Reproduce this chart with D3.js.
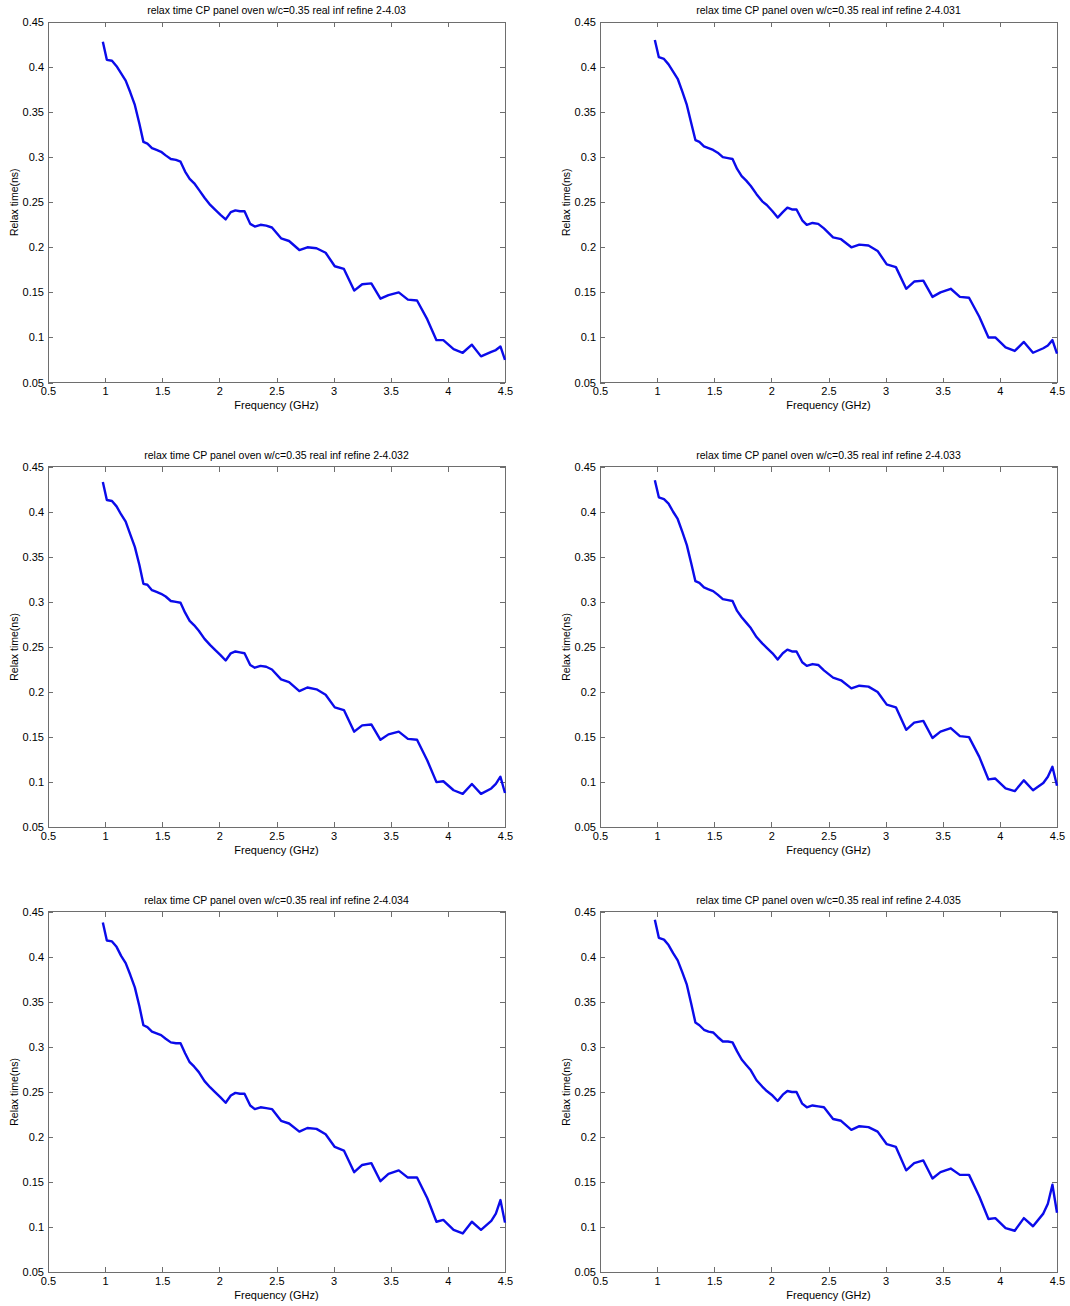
<!DOCTYPE html>
<html>
<head>
<meta charset="utf-8">
<script src="https://cdn.jsdelivr.net/npm/d3@7"></script>
<style>
  html, body { margin: 0; padding: 0; background: #fff; }
  svg { display: block; }
  text { font-family: "Liberation Sans", Arial, sans-serif; fill: #000; }
</style>
</head>
<body>
<svg id="chart" width="1070" height="1306"></svg>
<script>
// Frequency grid (GHz) shared by all six runs
const freq = [0.98, 1.015, 1.06, 1.10, 1.14, 1.18, 1.22, 1.26, 1.30, 1.335,
  1.37, 1.41, 1.45, 1.49, 1.53, 1.575, 1.62, 1.66, 1.70, 1.74,
  1.78, 1.82, 1.87, 1.92, 1.96, 2.01, 2.055, 2.10, 2.14, 2.18,
  2.22, 2.27, 2.31, 2.36, 2.41, 2.46, 2.54, 2.61, 2.70, 2.77,
  2.85, 2.93, 3.01, 3.09, 3.18, 3.25, 3.33, 3.41, 3.48, 3.57,
  3.65, 3.73, 3.82, 3.90, 3.96, 4.05, 4.13, 4.21, 4.29, 4.38,
  4.42, 4.46, 4.50];

// Relaxation time (ns) for each refinement run
const relax403 = [0.428, 0.408, 0.407, 0.401, 0.393, 0.385, 0.372, 0.358, 0.337, 0.317,
  0.315, 0.310, 0.308, 0.306, 0.302, 0.298, 0.297, 0.295, 0.284, 0.276,
  0.271, 0.264, 0.255, 0.247, 0.242, 0.236, 0.231, 0.239, 0.241, 0.240,
  0.240, 0.226, 0.223, 0.225, 0.224, 0.222, 0.210, 0.207, 0.197, 0.200,
  0.199, 0.194, 0.179, 0.176, 0.152, 0.159, 0.160, 0.143, 0.147, 0.150,
  0.142, 0.141, 0.120, 0.097, 0.097, 0.087, 0.083, 0.092, 0.079, 0.084,
  0.086, 0.090, 0.075];
const relax4031 = [0.430, 0.411, 0.409, 0.403, 0.395, 0.387, 0.373, 0.358, 0.337, 0.319,
  0.317, 0.312, 0.310, 0.308, 0.305, 0.300, 0.299, 0.298, 0.287, 0.279,
  0.274, 0.268, 0.259, 0.251, 0.247, 0.240, 0.233, 0.239, 0.244, 0.242,
  0.242, 0.230, 0.225, 0.227, 0.226, 0.221, 0.211, 0.209, 0.200, 0.203,
  0.202, 0.196, 0.181, 0.178, 0.154, 0.162, 0.163, 0.145, 0.150, 0.154,
  0.145, 0.144, 0.123, 0.100, 0.100, 0.089, 0.085, 0.095, 0.083, 0.088,
  0.091, 0.097, 0.082];
const relax4032 = [0.433, 0.413, 0.412, 0.406, 0.397, 0.389, 0.375, 0.361, 0.341, 0.320,
  0.319, 0.313, 0.311, 0.309, 0.306, 0.301, 0.300, 0.299, 0.288, 0.279,
  0.274, 0.268, 0.259, 0.252, 0.247, 0.241, 0.235, 0.243, 0.245, 0.244,
  0.243, 0.230, 0.227, 0.229, 0.228, 0.225, 0.214, 0.211, 0.201, 0.205,
  0.203, 0.197, 0.183, 0.180, 0.156, 0.163, 0.164, 0.147, 0.153, 0.156,
  0.148, 0.147, 0.124, 0.100, 0.101, 0.091, 0.087, 0.098, 0.087, 0.093,
  0.098, 0.106, 0.088];
const relax4033 = [0.435, 0.416, 0.414, 0.409, 0.400, 0.392, 0.378, 0.363, 0.342, 0.323,
  0.321, 0.316, 0.314, 0.312, 0.308, 0.303, 0.302, 0.301, 0.290, 0.283,
  0.277, 0.271, 0.261, 0.254, 0.249, 0.243, 0.236, 0.243, 0.247, 0.245,
  0.245, 0.233, 0.229, 0.231, 0.230, 0.224, 0.216, 0.213, 0.204, 0.207,
  0.206, 0.200, 0.186, 0.183, 0.158, 0.166, 0.168, 0.149, 0.156, 0.160,
  0.151, 0.150, 0.128, 0.103, 0.104, 0.093, 0.090, 0.102, 0.091, 0.099,
  0.106, 0.117, 0.096];
const relax4034 = [0.438, 0.418, 0.417, 0.411, 0.401, 0.393, 0.380, 0.366, 0.345, 0.324,
  0.322, 0.317, 0.315, 0.313, 0.309, 0.305, 0.304, 0.304, 0.293, 0.283,
  0.278, 0.272, 0.262, 0.255, 0.250, 0.244, 0.238, 0.246, 0.249, 0.248,
  0.248, 0.235, 0.231, 0.233, 0.232, 0.231, 0.218, 0.215, 0.206, 0.210,
  0.209, 0.203, 0.189, 0.185, 0.161, 0.169, 0.171, 0.151, 0.159, 0.163,
  0.155, 0.155, 0.132, 0.106, 0.108, 0.097, 0.093, 0.106, 0.097, 0.107,
  0.115, 0.130, 0.105];
const relax4035 = [0.441, 0.421, 0.419, 0.413, 0.404, 0.396, 0.383, 0.369, 0.347, 0.327,
  0.324, 0.319, 0.317, 0.316, 0.311, 0.306, 0.306, 0.305, 0.295, 0.286,
  0.280, 0.274, 0.263, 0.256, 0.251, 0.246, 0.240, 0.247, 0.251, 0.250,
  0.250, 0.237, 0.233, 0.235, 0.234, 0.233, 0.220, 0.218, 0.208, 0.212,
  0.211, 0.206, 0.192, 0.189, 0.163, 0.171, 0.174, 0.154, 0.161, 0.165,
  0.158, 0.158, 0.134, 0.109, 0.110, 0.099, 0.096, 0.110, 0.101, 0.115,
  0.126, 0.147, 0.116];

const runLabels = ["2-4.03", "2-4.031", "2-4.032", "2-4.033", "2-4.034", "2-4.035"];
const runSeries = [relax403, relax4031, relax4032, relax4033, relax4034, relax4035];

const xTicks = [0.5, 1, 1.5, 2, 2.5, 3, 3.5, 4, 4.5];
const yTicks = [0.05, 0.1, 0.15, 0.2, 0.25, 0.3, 0.35, 0.4, 0.45];
const xDomain = [0.5, 4.5];
const yDomain = [0.05, 0.45];

const titlePrefix = "relax time CP panel oven w/c=0.35 real inf refine ";
const xLabel = "Frequency (GHz)";
const yLabel = "Relax time(ns)";

// Panel placement (left/right columns, three rows)
const colX = [48, 600];
const rowY = [22, 466.7, 911.7];
const plotW = 457;
const plotH = 360.5;

const svg = d3.select("#chart");
const frameColor = "#6e6e6e";
const tickLen = 5;

runSeries.forEach((vals, i) => {
  const col = i % 2, row = Math.floor(i / 2);
  const g = svg.append("g").attr("transform", `translate(${colX[col]},${rowY[row]})`);

  const x = d3.scaleLinear().domain(xDomain).range([0, plotW]);
  const y = d3.scaleLinear().domain(yDomain).range([plotH, 0]);

  // plot frame
  g.append("rect")
    .attr("x", 0).attr("y", 0).attr("width", plotW).attr("height", plotH)
    .attr("fill", "none").attr("stroke", frameColor).attr("stroke-width", 1)
    .attr("shape-rendering", "crispEdges");

  // bottom axis with inward ticks
  const xAxis = g.append("g").attr("transform", `translate(0,${plotH})`)
    .call(d3.axisBottom(x).tickValues(xTicks).tickFormat(d3.format("")).tickSizeInner(-tickLen).tickSizeOuter(0).tickPadding(5));
  // left axis with inward ticks
  const yAxis = g.append("g")
    .call(d3.axisLeft(y).tickValues(yTicks).tickFormat(d3.format("")).tickSizeInner(-tickLen).tickSizeOuter(0).tickPadding(4));
  // mirrored ticks on top and right
  const xTop = g.append("g")
    .call(d3.axisTop(x).tickValues(xTicks).tickFormat("").tickSizeInner(-tickLen).tickSizeOuter(0));
  const yRight = g.append("g").attr("transform", `translate(${plotW},0)`)
    .call(d3.axisRight(y).tickValues(yTicks).tickFormat("").tickSizeInner(-tickLen).tickSizeOuter(0));

  [xAxis, yAxis, xTop, yRight].forEach(a => {
    a.select(".domain").remove();
    a.selectAll(".tick line").attr("stroke", frameColor).attr("shape-rendering", "crispEdges");
    a.selectAll("text").attr("font-size", "11px").attr("fill", "#111")
      .attr("font-family", "'Liberation Sans', Arial, sans-serif");
  });

  // data curve
  const line = d3.line().x((d, k) => x(freq[k])).y(d => y(d));
  g.append("path")
    .datum(vals)
    .attr("d", line)
    .attr("fill", "none")
    .attr("stroke", "#0b0bea")
    .attr("stroke-width", 2.4)
    .attr("stroke-linejoin", "round");

  // title
  g.append("text")
    .attr("x", plotW / 2).attr("y", -8)
    .attr("text-anchor", "middle")
    .attr("font-size", "10.5px")
    .text(titlePrefix + runLabels[i]);

  // axis labels
  g.append("text")
    .attr("x", plotW / 2).attr("y", plotH + 26.5)
    .attr("text-anchor", "middle")
    .attr("font-size", "11px")
    .text(xLabel);

  g.append("text")
    .attr("transform", `translate(-30,${plotH / 2}) rotate(-90)`)
    .attr("text-anchor", "middle")
    .attr("font-size", "10.5px")
    .text(yLabel);
});
</script>
</body>
</html>
